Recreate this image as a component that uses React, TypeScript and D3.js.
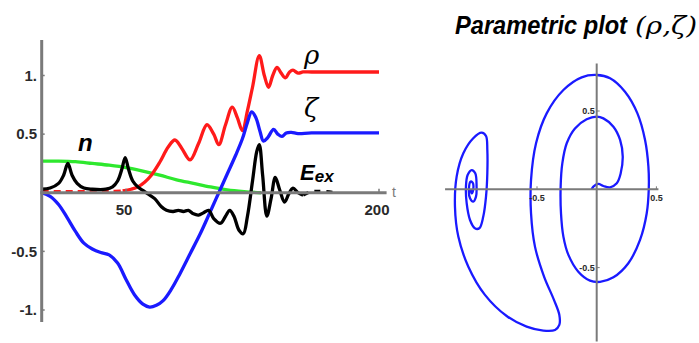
import React from "react";
import * as d3 from "d3";

// time series (t, value)
const rhoT = [0, 10, 20, 30, 40, 48, 53, 57, 61, 65, 70, 75, 79, 83, 88, 93, 98, 102, 105, 109, 113, 116, 119, 122, 125, 129, 132, 134.5, 137, 139.5, 142, 144.5, 147, 149, 152, 155, 160, 180, 200];
const rhoV = [0.01, 0.01, 0.01, 0.01, 0.01, 0.015, 0.03, 0.05, 0.09, 0.15, 0.26, 0.39, 0.45, 0.38, 0.28, 0.42, 0.58, 0.5, 0.41, 0.58, 0.73, 0.64, 0.53, 0.7, 0.9, 1.17, 1.0, 0.9, 1.0, 1.07, 1.02, 0.98, 1.03, 1.045, 1.02, 1.03, 1.03, 1.03, 1.03];

const zetaT = [0, 5, 10, 15, 20, 25, 30, 35, 40, 45, 50, 55, 60, 64, 68, 72, 77, 82, 88, 94, 100, 105, 110, 115, 119, 122, 124.5, 127, 129.5, 131.5, 134, 137.5, 140, 142.5, 145, 148, 152, 160, 200];
const zetaV = [0, -0.03, -0.1, -0.21, -0.33, -0.43, -0.48, -0.51, -0.53, -0.6, -0.74, -0.87, -0.95, -0.975, -0.96, -0.92, -0.82, -0.69, -0.52, -0.35, -0.16, 0, 0.16, 0.32, 0.46, 0.6, 0.69, 0.64, 0.52, 0.44, 0.47, 0.54, 0.5, 0.48, 0.51, 0.515, 0.505, 0.51, 0.51];

const greenT = [0, 10, 20, 30, 40, 50, 60, 70, 80, 90, 100, 110, 120, 130];
const greenV = [0.27, 0.27, 0.265, 0.25, 0.235, 0.215, 0.185, 0.15, 0.11, 0.08, 0.05, 0.025, 0.01, 0.0];

const nT = [0, 5, 10, 13, 15.5, 18, 21, 25, 30, 38, 42, 45, 47.5, 49.5, 51.5, 54, 57, 60, 63, 67, 71, 74, 78, 81, 84, 87, 90, 93, 96, 99, 102, 106, 109, 111.5, 114, 117, 119.5, 122, 125, 127.5, 129, 131, 133.5, 136, 138.5, 141, 144, 146.5, 149, 152, 155, 160, 175];
const nV = [0.03, 0.04, 0.08, 0.15, 0.25, 0.15, 0.08, 0.04, 0.03, 0.03, 0.05, 0.1, 0.2, 0.3, 0.2, 0.1, 0.05, 0.02, -0.01, -0.05, -0.12, -0.15, -0.16, -0.15, -0.16, -0.15, -0.18, -0.19, -0.17, -0.15, -0.22, -0.26, -0.2, -0.15, -0.2, -0.32, -0.35, -0.2, 0.1, 0.35, 0.41, 0.15, -0.2, -0.05, 0.13, 0.03, -0.08, -0.01, 0.04, 0.0, -0.02, 0.01, 0.0];

const xTicks = [50, 200];
const yTicks = [1, 0.5, -0.5, -1];
const yTickLabels = ["1.", "0.5", "-0.5", "-1."];

// parametric curve (rho, zeta)
const paramX = [-0.042, -0.028, 0.014, 0.056, 0.112, 0.168, 0.201, 0.218, 0.196, 0.14, 0.056, 0, -0.084, -0.182, -0.251, -0.288, -0.302, -0.299, -0.279, -0.237, -0.154, -0.056, 0.028, 0.14, 0.265, 0.363, 0.419, 0.436, 0.433, 0.405, 0.341, 0.237, 0.112, 0, -0.126, -0.279, -0.419, -0.508, -0.55, -0.55, -0.517, -0.441, -0.358, -0.313, -0.313, -0.349, -0.447, -0.587, -0.754, -0.936, -1.075, -1.159, -1.187, -1.173, -1.117, -1.034, -0.964, -0.927, -0.916, -0.916, -0.927, -0.95, -0.983, -1.02, -1.061, -1.089, -1.095, -1.081, -1.047, -1.017, -1.006, -1.011, -1.034, -1.061, -1.07, -1.056, -1.039, -1.034, -1.047, -1.056];
const paramY = [0, 0.017, 0.034, 0.021, 0.013, 0.038, 0.102, 0.209, 0.315, 0.4, 0.453, 0.464, 0.447, 0.389, 0.294, 0.166, 0.017, -0.153, -0.302, -0.419, -0.526, -0.583, -0.591, -0.562, -0.472, -0.323, -0.153, 0, 0.145, 0.315, 0.485, 0.623, 0.709, 0.73, 0.715, 0.634, 0.485, 0.294, 0.06, -0.153, -0.366, -0.557, -0.706, -0.802, -0.866, -0.898, -0.902, -0.877, -0.809, -0.674, -0.494, -0.302, -0.111, 0.081, 0.23, 0.326, 0.362, 0.34, 0.251, 0.102, -0.047, -0.174, -0.249, -0.249, -0.196, -0.089, 0.017, 0.091, 0.123, 0.102, 0.017, -0.047, -0.079, -0.057, 0.006, 0.049, 0.043, 0, -0.026, 0];
const pxTicks = [-0.5, 0.5];
const pyTicks = [0.5, -0.5];

const AXIS = "#7a7a7a";

export default function App() {
  // left panel scales
  const x = d3.scaleLinear().domain([0, 200]).range([41.7, 379]);
  const y = d3.scaleLinear().domain([-1, 1]).range([310, 75.5]);

  const line = d3
    .line<[number, number]>()
    .x((d) => x(d[0]))
    .y((d) => y(d[1]))
    .curve(d3.curveCatmullRom.alpha(0.5));

  const zip = (a: number[], b: number[]) => a.map((t, i) => [t, b[i]] as [number, number]);
  const rho = zip(rhoT, rhoV);
  const zeta = zip(zetaT, zetaV);
  const green = zip(greenT, greenV);
  const nE = zip(nT, nV);

  // right panel scales
  const px = d3.scaleLinear().domain([0, 0.5]).range([596.7, 656.4]);
  const py = d3.scaleLinear().domain([0, 0.5]).range([189.3, 111]);
  const pline = d3
    .line<[number, number]>()
    .x((d) => px(d[0]))
    .y((d) => py(d[1]))
    .curve(d3.curveCatmullRom.alpha(0.5));
  const param = zip(paramX, paramY);

  const tickFont = { fontFamily: "Liberation Sans, Arial, sans-serif", fontWeight: 700 };
  const sw = 3.3;

  return (
    <svg
      width={699}
      height={343}
      style={{ position: "absolute", left: 0, top: 0, background: "#fff" }}
    >
      {/* left panel curves */}
      <path d={line(green) ?? ""} fill="none" stroke="#2ee82e" strokeWidth={sw} />
      <path d={line(rho.filter((d) => d[0] <= 48)) ?? ""} fill="none" stroke="#ff1a1a" strokeWidth={sw} strokeDasharray="7,5" />
      <path d={line(rho.filter((d) => d[0] >= 48)) ?? ""} fill="none" stroke="#ff1a1a" strokeWidth={sw} />
      <path d={line(zeta) ?? ""} fill="none" stroke="#1a1aff" strokeWidth={sw} />
      <path d={line(nE.filter((d) => d[0] <= 155)) ?? ""} fill="none" stroke="#000" strokeWidth={sw} />
      <path d={line(nE.filter((d) => d[0] >= 155)) ?? ""} fill="none" stroke="#000" strokeWidth={sw} strokeDasharray="6,6" />

      {/* left axes */}
      <line x1={x(0)} x2={x(0)} y1={40} y2={322} stroke={AXIS} strokeWidth={3} />
      <line x1={x(0) - 1.5} x2={x(204.5)} y1={y(0)} y2={y(0)} stroke={AXIS} strokeWidth={3} />
      {yTicks.map((v, i) => (
        <g key={v}>
          <line x1={x(0)} x2={x(0) + 3} y1={y(v)} y2={y(v)} stroke={AXIS} strokeWidth={1.5} />
          <text x={37} y={y(v)} dy="0.35em" textAnchor="end" fontSize={15} fill="#2a2a2a" style={tickFont}>
            {yTickLabels[i]}
          </text>
        </g>
      ))}
      {xTicks.map((t) => (
        <g key={t}>
          <line x1={x(t)} x2={x(t)} y1={y(0)} y2={y(0) - 4} stroke={AXIS} strokeWidth={1.5} />
          <text x={x(t) - 2} y={y(0) + 22} textAnchor="middle" fontSize={15} fill="#2a2a2a" style={tickFont}>
            {t}
          </text>
        </g>
      ))}
      <text x={392} y={y(0) + 4} fontSize={14} fill={AXIS} style={{ fontFamily: "Liberation Sans, sans-serif" }}>
        t
      </text>

      {/* curve labels */}
      <text x={304} y={64} fontSize={26} fontStyle="italic" style={{ fontFamily: "DejaVu Serif, serif" }}>
        ρ
      </text>
      <text x={304} y={117} fontSize={26} fontStyle="italic" style={{ fontFamily: "DejaVu Serif, serif" }}>
        ζ
      </text>
      <text x={78} y={151} fontSize={24} fontStyle="italic" fontWeight={700} style={{ fontFamily: "Liberation Sans, sans-serif" }}>
        n
      </text>
      <text x={300} y={180} fontSize={22} fontStyle="italic" fontWeight={700} style={{ fontFamily: "Liberation Sans, sans-serif" }}>
        E
        <tspan fontSize={17} dy={2}>
          ex
        </tspan>
      </text>

      {/* right panel title */}
      <text x={455} y={34} fontSize={25} fontStyle="italic" fontWeight={700} textLength={172} lengthAdjust="spacingAndGlyphs" style={{ fontFamily: "Liberation Sans, sans-serif" }}>
        Parametric plot
      </text>
      <text x={635} y={34} fontSize={25} fontStyle="italic" textLength={62} lengthAdjust="spacingAndGlyphs" style={{ fontFamily: "DejaVu Serif, serif" }}>
        (ρ,ζ)
      </text>

      {/* right panel curve */}
      <path d={pline(param) ?? ""} fill="none" stroke="#1a1aff" strokeWidth={2.3} />

      {/* right axes */}
      <line x1={px(-1.27)} x2={px(0.517)} y1={py(0)} y2={py(0)} stroke={AXIS} strokeWidth={2} />
      <line x1={px(0)} x2={px(0)} y1={py(0.804)} y2={py(-0.972)} stroke={AXIS} strokeWidth={2} />
      {pxTicks.map((v) => (
        <g key={"px" + v}>
          <line x1={px(v)} x2={px(v)} y1={py(0)} y2={py(0) - 3} stroke={AXIS} strokeWidth={1} />
          <text x={px(v)} y={py(0) + 12} textAnchor="middle" fontSize={9} fill="#2a2a2a" style={tickFont}>
            {v}
          </text>
        </g>
      ))}
      {pyTicks.map((v) => (
        <g key={"py" + v}>
          <line x1={px(0)} x2={px(0) + 3} y1={py(v)} y2={py(v)} stroke={AXIS} strokeWidth={1} />
          <text x={px(0) - 2} y={py(v)} dy="0.35em" textAnchor="end" fontSize={9} fill="#2a2a2a" style={tickFont}>
            {v}
          </text>
        </g>
      ))}
    </svg>
  );
}
